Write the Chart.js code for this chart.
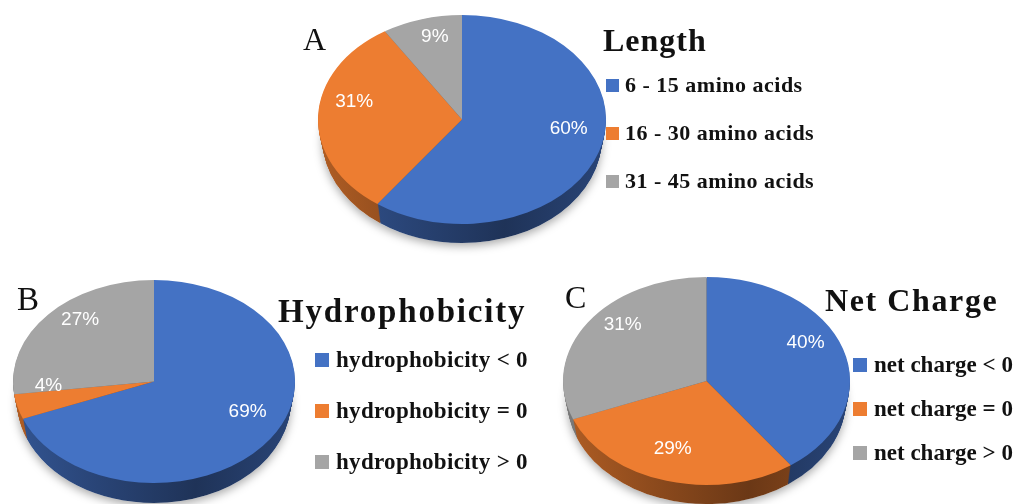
<!DOCTYPE html>
<html>
<head>
<meta charset="utf-8">
<script src="https://cdn.jsdelivr.net/npm/chart.js@4.4.0/dist/chart.umd.min.js"></script>
<style>
    html, body { margin: 0; padding: 0; background: #fff; }
    body { width: 1017px; height: 504px; position: relative; overflow: hidden; }
    .box { position: absolute; }
    .txt {
        position: absolute;
        white-space: nowrap;
        line-height: 1;
        font-family: "Liberation Serif", "Times New Roman", serif;
        color: #111;
    }
    .sq { position: absolute; }
</style>
</head>
<body>
<div class="box" style="left:300px; top:0; width:330px; height:260px;"><canvas id="chartLength"></canvas></div>
<div class="box" style="left:0; top:270px; width:310px; height:234px;"><canvas id="chartHydro"></canvas></div>
<div class="box" style="left:550px; top:270px; width:310px; height:234px;"><canvas id="chartCharge"></canvas></div>

<script>
// Данные диаграмм
const lengthLabels = ['6 - 15 amino acids', '16 - 30 amino acids', '31 - 45 amino acids'];
const lengthValues = [60, 31, 9];

const hydroLabels = ['hydrophobicity < 0', 'hydrophobicity = 0', 'hydrophobicity > 0'];
const hydroValues = [69, 4, 27];

const chargeLabels = ['net charge < 0', 'net charge = 0', 'net charge > 0'];
const chargeValues = [40, 29, 31];

const sliceColors = ['#4472C4', '#ED7D31', '#A5A5A5'];

// Затемнение цвета для боковой стенки
function shade(hex, k) {
    const n = parseInt(hex.slice(1), 16);
    const r = Math.round(((n >> 16) & 255) * k);
    const g = Math.round(((n >> 8) & 255) * k);
    const b = Math.round((n & 255) * k);
    return `rgb(${r},${g},${b})`;
}

// Псевдо-3D: сплющенный круг + боковая стенка + подписи процентов
const pie3d = {
    id: 'pie3d',
    beforeDatasetsDraw(chart, args, opts) {
        const arcs = chart.getDatasetMeta(0).data;
        if (!arcs.length) return;
        const { x, y, outerRadius: R } = arcs[0];
        const ctx = chart.ctx;
        const sx = opts.rx / R, sy = opts.ry / R;
        const colors = chart.data.datasets[0].backgroundColor;
        // нижняя грань чуть уже верхней (перспектива)
        const bottomShrink = 0.03;

        // тень под диаграммой
        ctx.save();
        ctx.translate(opts.cx, opts.cy + opts.depth);
        ctx.scale(sx * (1 - bottomShrink), sy);
        ctx.translate(-x, -y);
        ctx.shadowColor = 'rgba(0,0,0,0.35)';
        ctx.shadowBlur = 10;
        ctx.shadowOffsetY = 3;
        ctx.beginPath();
        ctx.arc(x, y, R, 0, Math.PI * 2);
        ctx.fillStyle = '#fff';
        ctx.fill();
        ctx.restore();

        // боковая стенка слоями
        for (let d = opts.depth; d >= 1; d--) {
            const k = 1 - bottomShrink * d / opts.depth;
            ctx.save();
            ctx.translate(opts.cx, opts.cy + d);
            ctx.scale(sx * k, sy);
            ctx.translate(-x, -y);
            arcs.forEach((arc, i) => {
                const g = ctx.createLinearGradient(x - R, 0, x + R, 0);
                g.addColorStop(0, shade(colors[i], 0.74));
                g.addColorStop(0.3, shade(colors[i], 0.6));
                g.addColorStop(0.65, shade(colors[i], 0.45));
                g.addColorStop(1, shade(colors[i], 0.6));
                ctx.beginPath();
                ctx.moveTo(x, y);
                ctx.arc(x, y, R, arc.startAngle, arc.endAngle);
                ctx.closePath();
                ctx.fillStyle = g;
                ctx.fill();
            });
            ctx.restore();
        }

        // верхняя грань рисуется самим Chart.js в сплющенных координатах
        ctx.save();
        ctx.translate(opts.cx, opts.cy);
        ctx.scale(sx, sy);
        ctx.translate(-x, -y);
    },
    afterDatasetsDraw(chart, args, opts) {
        const ctx = chart.ctx;
        ctx.restore();

        const arcs = chart.getDatasetMeta(0).data;
        const values = chart.data.datasets[0].data;
        const total = values.reduce((s, v) => s + v, 0);

        // перспектива для размещения подписей
        const C = -0.15;
        const ay = (opts.ry * 2) / (1 / (1 - C) + 1 / (1 + C));
        const y0 = (opts.cy - opts.ry) + ay / (1 - C);
        const rp = opts.rx * Math.sqrt(1 - C * C);

        ctx.save();
        ctx.fillStyle = '#fff';
        ctx.font = '19px "Liberation Sans", Arial, sans-serif';
        ctx.textAlign = 'center';
        ctx.textBaseline = 'middle';
        arcs.forEach((arc, i) => {
            const mid = (arc.startAngle + arc.endAngle) / 2;
            const f = opts.labelRadius;
            const u = f * Math.cos(mid), v = f * Math.sin(mid);
            const den = 1 + C * v;
            const lx = opts.cx + rp * u / den;
            const ly = y0 + ay * v / den;
            ctx.fillText(Math.round(values[i] / total * 100) + '%', lx, ly);
        });
        ctx.restore();
    }
};

function initPie(canvasId, labels, values, geom) {
    const el = document.getElementById(canvasId);
    return new Chart(el.getContext('2d'), {
        type: 'pie',
        data: {
            labels: labels,
            datasets: [{
                data: values,
                backgroundColor: sliceColors,
                borderWidth: 0
            }]
        },
        options: {
            responsive: true,
            maintainAspectRatio: false,
            animation: false,
            events: [],
            plugins: {
                legend: { display: false },
                tooltip: { enabled: false },
                pie3d: geom
            }
        },
        plugins: [pie3d]
    });
}

// Текст с привязкой к базовой линии
function addText(text, left, baseline, size, bold, spacing) {
    const d = document.createElement('div');
    d.className = 'txt';
    d.textContent = text;
    d.style.left = left + 'px';
    d.style.top = (baseline - 0.8375 * size) + 'px';
    d.style.fontSize = size + 'px';
    d.style.fontWeight = bold ? 'bold' : 'normal';
    if (spacing) d.style.letterSpacing = spacing + 'px';
    document.body.appendChild(d);
}

// Легенда справа от диаграммы
function addLegend(labels, sqX, sqSize, textX, baselines, size, spacing) {
    labels.forEach((label, i) => {
        const s = document.createElement('div');
        s.className = 'sq';
        s.style.left = sqX + 'px';
        s.style.top = (baselines[i] - sqSize) + 'px';
        s.style.width = sqSize + 'px';
        s.style.height = sqSize + 'px';
        s.style.background = sliceColors[i];
        document.body.appendChild(s);
        addText(label, textX, baselines[i], size, true, spacing);
    });
}

initPie('chartLength', lengthLabels, lengthValues,
    { cx: 162, cy: 119.5, rx: 144, ry: 104.5, depth: 19, labelRadius: 0.76 });
initPie('chartHydro', hydroLabels, hydroValues,
    { cx: 154, cy: 111.5, rx: 141, ry: 101.5, depth: 20, labelRadius: 0.76 });
initPie('chartCharge', chargeLabels, chargeValues,
    { cx: 156.5, cy: 111, rx: 143.5, ry: 104, depth: 19, labelRadius: 0.76 });

addText('A', 303, 50, 32, false);
addText('Length', 603, 51, 32, true, 1);
addLegend(lengthLabels, 606, 13, 625, [92, 140, 188], 22, 0.5);

addText('B', 17, 311, 33, false);
addText('Hydrophobicity', 278, 323, 33, true, 1.8);
addLegend(hydroLabels, 315, 14, 336, [367, 418, 469], 23, 0.3);

addText('C', 565, 308, 32, false);
addText('Net Charge', 825, 311, 32, true, 1.6);
addLegend(chargeLabels, 853, 14, 874, [372, 416, 460], 23, 0);
</script>
</body>
</html>
